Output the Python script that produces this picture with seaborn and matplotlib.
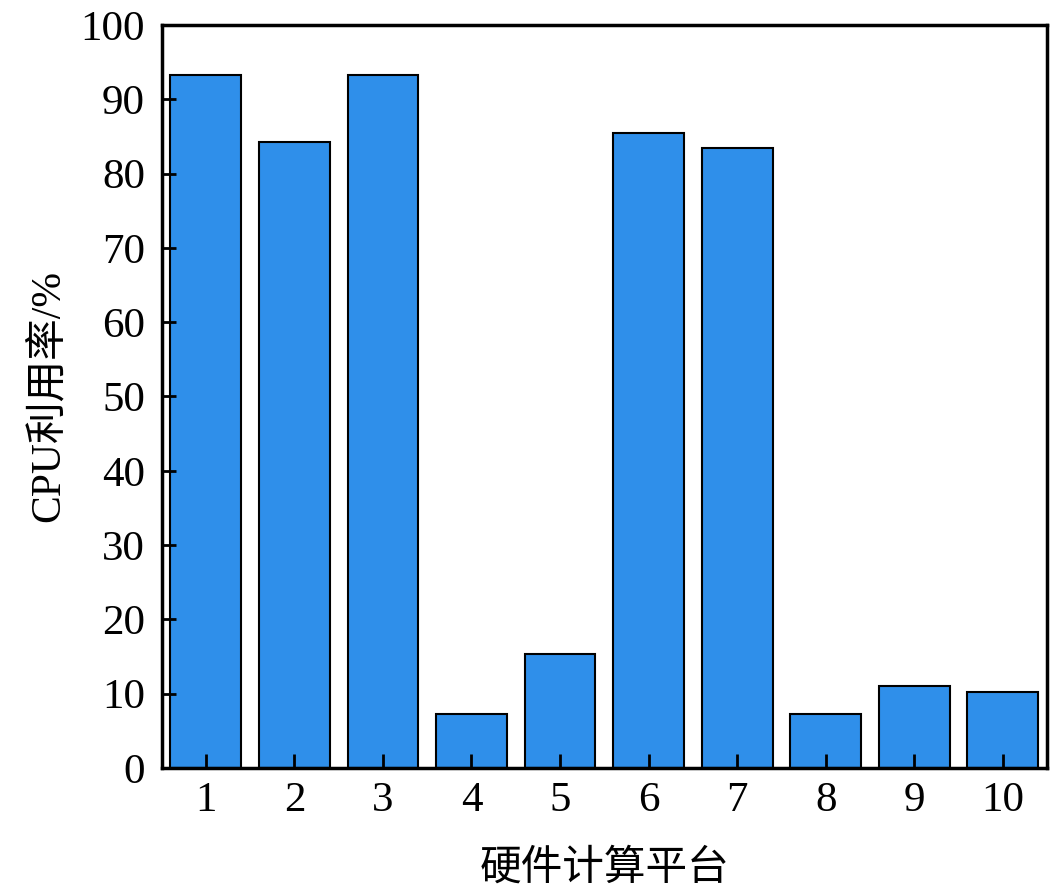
import matplotlib
matplotlib.use('Agg')
import matplotlib.pyplot as plt
import seaborn as sns
import pandas as pd

# values
platforms = ['1', '2', '3', '4', '5', '6', '7', '8', '9', '10']
cpu_usage = [93.3, 84.3, 93.3, 7.3, 15.3, 85.4, 83.4, 7.3, 11.0, 10.2]
yticks = [0, 10, 20, 30, 40, 50, 60, 70, 80, 90, 100]

sns.set_style('white')
plt.rcParams['font.family'] = ['Liberation Serif', 'Noto Sans CJK SC']
plt.rcParams['text.color'] = 'black'
plt.rcParams['axes.labelcolor'] = 'black'

df = pd.DataFrame({'platform': platforms, 'cpu': cpu_usage})

fig = plt.figure(figsize=(10.63, 8.93), dpi=100)
ax = fig.add_axes([0.152, 0.14, 0.833, 0.832])
sns.barplot(data=df, x='platform', y='cpu', color='#2F8FEA', saturation=1,
            edgecolor='black', linewidth=1.5, width=0.8, ax=ax)

ax.set_axisbelow(False)
ax.set_ylim(0, 100)
ax.set_xlim(-0.5, 9.5)
ax.set_yticks(yticks)
ax.tick_params(axis='both', direction='in', length=10, width=2, labelsize=31,
               colors='black', top=False, right=False, left=True, bottom=True)
ax.tick_params(axis='y', pad=12)
ax.tick_params(axis='x', pad=10)
for s in ax.spines.values():
    s.set_linewidth(2.5)
    s.set_color('black')

ax.set_xlabel('硬件计算平台', fontsize=30, family=['Noto Sans CJK SC'], labelpad=20)
ax.set_ylabel('CPU利用率/%', fontsize=30, family=['Liberation Serif', 'Noto Sans CJK SC'], labelpad=9)

fig.savefig('out.png', dpi=100)
